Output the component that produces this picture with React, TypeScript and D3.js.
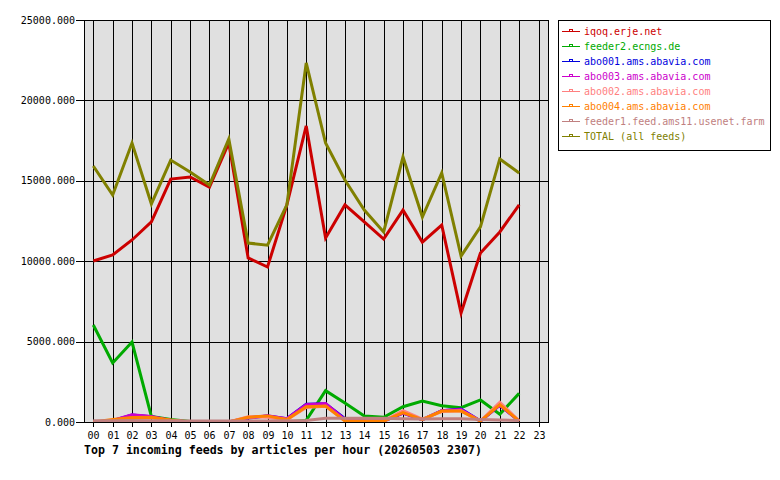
import React from "react";
import * as d3 from "d3";

// hours on the x axis
const hours = [
  "00", "01", "02", "03", "04", "05", "06", "07", "08", "09", "10", "11",
  "12", "13", "14", "15", "16", "17", "18", "19", "20", "21", "22", "23",
];

const yTicks = [0, 5000, 10000, 15000, 20000, 25000];

// series values, 00..22
const iqoq = [10010, 10390, 11320, 12440, 15110, 15240, 14610, 17350, 10200, 9640, 13500, 18410, 11440, 13500, 12440, 11380, 13180, 11190, 12250, 6780, 10510, 11820, 13500];
const feeder2 = [6030, 3670, 4975, 350, 150, 30, 0, 0, 0, 0, 0, 100, 1950, 1180, 370, 290, 950, 1300, 1010, 890, 1370, 480, 1780];
const abo001 = [0, 80, 430, 330, 100, 0, 0, 0, 250, 380, 200, 1100, 1130, 200, 80, 60, 560, 150, 700, 800, 60, 1050, 60];
const abo003 = [0, 90, 450, 340, 100, 0, 0, 0, 260, 390, 210, 1080, 1150, 150, 70, 60, 560, 140, 700, 780, 60, 1050, 60];
const abo002 = [0, 60, 250, 270, 100, 0, 0, 0, 330, 300, 150, 900, 980, 80, 60, 60, 700, 180, 650, 700, 60, 1230, 60];
const abo004 = [0, 150, 280, 300, 120, 0, 0, 0, 300, 380, 150, 950, 1000, 60, 50, 50, 580, 150, 680, 680, 60, 1080, 60];
const feeder1 = [80, 80, 90, 80, 70, 60, 60, 60, 60, 60, 70, 100, 230, 230, 230, 230, 200, 180, 200, 200, 150, 120, 100];
const total = [15920, 14117, 17350, 13560, 16290, 15550, 14740, 17600, 11130, 11000, 13500, 22330, 17350, 15050, 13180, 11820, 16480, 12750, 15490, 10320, 12130, 16360, 15490];

const seriesNames = [
  "iqoq.erje.net",
  "feeder2.ecngs.de",
  "abo001.ams.abavia.com",
  "abo003.ams.abavia.com",
  "abo002.ams.abavia.com",
  "abo004.ams.abavia.com",
  "feeder1.feed.ams11.usenet.farm",
  "TOTAL (all feeds)",
];
const seriesValues = [iqoq, feeder2, abo001, abo003, abo002, abo004, feeder1, total];
const seriesColors = ["#cc0000", "#00aa00", "#0000dd", "#cc00cc", "#ff8080", "#ff8000", "#c08080", "#808000"];
// order in which lines are painted (last on top)
const drawOrder = [1, 2, 3, 4, 5, 6, 0, 7];

const title = "Top 7 incoming feeds by articles per hour (20260503 2307)";

export default function App() {
  const W = 780,
    H = 480;
  const plot = { left: 84, right: 548, top: 20, bottom: 422 };

  const x = d3
    .scalePoint<string>()
    .domain(hours)
    .range([93.3, 538.5]);
  const y = d3
    .scaleLinear()
    .domain([0, 25000])
    .range([plot.bottom, plot.top]);

  const line = d3
    .line<number>()
    .x((d, i) => x(hours[i]) as number)
    .y((d) => y(d));

  const mono = "'DejaVu Sans Mono', monospace";

  return (
    <div style={{ position: "absolute", left: 0, top: 0 }}>
      <svg width={W} height={H} style={{ display: "block", background: "#fff" }}>
        <defs>
          <clipPath id="plotClip">
            <rect
              x={plot.left}
              y={plot.top}
              width={plot.right - plot.left}
              height={plot.bottom - plot.top}
            />
          </clipPath>
        </defs>
        <rect
          x={plot.left}
          y={plot.top}
          width={plot.right - plot.left}
          height={plot.bottom - plot.top}
          fill="#e0e0e0"
        />
        {/* vertical grid + ticks */}
        {hours.map((h) => (
          <g key={h}>
            <line
              x1={Math.round(x(h) as number) + 0.5}
              x2={Math.round(x(h) as number) + 0.5}
              y1={plot.top}
              y2={plot.bottom + 5}
              stroke="#000"
            />
            <text
              x={Math.round(x(h) as number) + 0.5}
              y={439}
              textAnchor="middle"
              fontFamily={mono}
              fontSize={10}
            >
              {h}
            </text>
          </g>
        ))}
        {/* horizontal grid + labels */}
        {yTicks.map((t) => (
          <g key={t}>
            <line
              x1={plot.left - 8}
              x2={plot.right}
              y1={Math.round(y(t)) + 0.5}
              y2={Math.round(y(t)) + 0.5}
              stroke="#000"
            />
            <text
              x={75}
              y={y(t) + 3.5}
              textAnchor="end"
              fontFamily={mono}
              fontSize={10}
            >
              {t.toFixed(3)}
            </text>
          </g>
        ))}
        {/* series lines */}
        <g clipPath="url(#plotClip)">
          {drawOrder.map((i) => (
            <path
              key={seriesNames[i]}
              d={line(seriesValues[i]) || ""}
              fill="none"
              stroke={seriesColors[i]}
              strokeWidth={3}
            />
          ))}
        </g>
        <rect
          x={plot.left + 0.5}
          y={plot.top + 0.5}
          width={plot.right - plot.left}
          height={plot.bottom - plot.top}
          fill="none"
          stroke="#000"
        />
        {/* title */}
        <text
          x={plot.left}
          y={454}
          fontFamily={mono}
          fontWeight="bold"
          fontSize={11.6}
        >
          {title}
        </text>
        {/* legend */}
        <rect x={558.5} y={20.5} width={212} height={130} fill="#fff" stroke="#000" />
        {seriesNames.map((name, i) => {
          const ly = 31.5 + i * 15;
          return (
            <g key={name} shapeRendering="crispEdges">
              <line x1={562} x2={580} y1={ly} y2={ly} stroke={seriesColors[i]} />
              <rect x={569.5} y={ly - 2} width={3} height={2} fill="#fff" stroke={seriesColors[i]} />
              <text
                x={584}
                y={ly + 3.5}
                fontFamily={mono}
                fontSize={10}
                fill={seriesColors[i]}
              >
                {name}
              </text>
            </g>
          );
        })}
      </svg>
    </div>
  );
}
